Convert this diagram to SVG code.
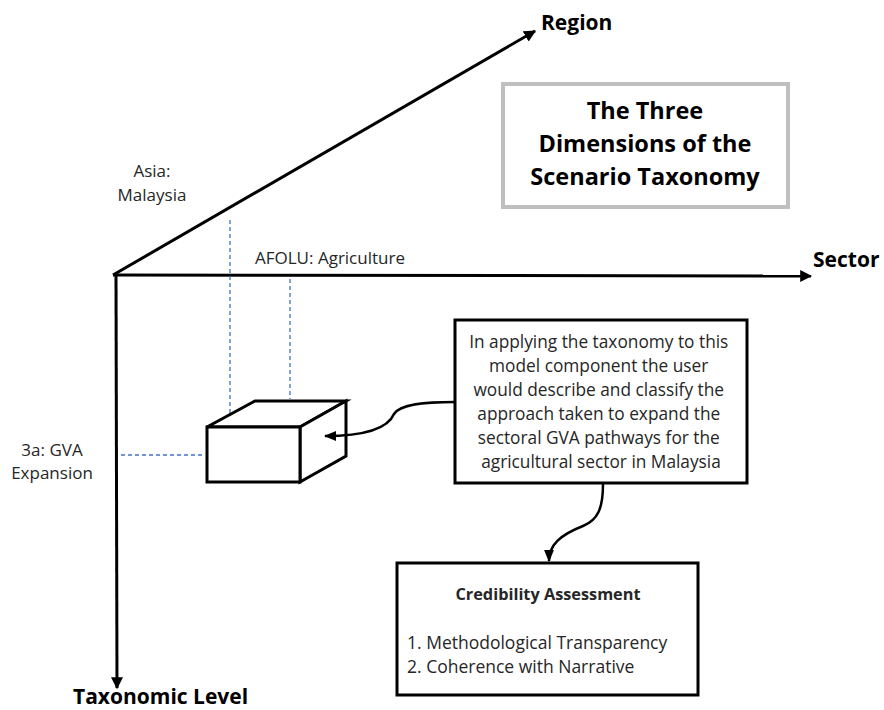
<svg xmlns="http://www.w3.org/2000/svg" width="884" height="710" viewBox="0 0 884 710">
<defs>
<style>
.t{font-family:"Open Sans","Noto Sans","Liberation Sans",sans-serif;fill:#262626}
.lbl{font-size:17px}
.ax{font-size:21px;font-weight:bold;fill:#000}
.ttl{font-size:23.5px;font-weight:bold;fill:#000}
.body{font-size:17.3px}
.axis{stroke:#000;stroke-width:3;fill:none}
.dash{stroke:#4472c4;stroke-width:1.3;stroke-dasharray:4,3;fill:none}
.box{stroke:#000;stroke-width:3;fill:#fff}
.con{stroke:#000;stroke-width:2.5;fill:none}
</style>
<marker id="ah" viewBox="0 0 10 10" refX="9" refY="5" markerWidth="4" markerHeight="4" orient="auto" markerUnits="strokeWidth">
<path d="M0,0 L10,5 L0,10 z" fill="#000"/>
</marker>
<marker id="ah2" viewBox="0 0 10 10" refX="9" refY="5" markerWidth="5" markerHeight="5" orient="auto" markerUnits="strokeWidth">
<path d="M0,1 L10,5 L0,9 z" fill="#000"/>
</marker>
</defs>
<rect width="884" height="710" fill="#fff"/>

<g id="axes">
<line class="axis" x1="113" y1="275" x2="535" y2="31" marker-end="url(#ah)"/>
<line class="axis" x1="113" y1="275" x2="811" y2="276" marker-end="url(#ah)"/>
<line class="axis" x1="116" y1="275" x2="117" y2="688" marker-end="url(#ah)"/>
</g>

<g id="axis-labels">
<text class="t ax" x="541" y="30">Region</text>
<text class="t ax" x="813" y="267">Sector</text>
<text class="t ax" x="73" y="704">Taxonomic Level</text>
</g>

<g id="tick-labels">
<text class="t lbl" x="152" y="177" text-anchor="middle">Asia:</text>
<text class="t lbl" x="152" y="201" text-anchor="middle">Malaysia</text>
<text class="t lbl" x="255" y="264">AFOLU: Agriculture</text>
<text class="t lbl" x="52" y="456" text-anchor="middle">3a: GVA</text>
<text class="t lbl" x="52" y="479" text-anchor="middle">Expansion</text>
</g>

<g id="guides">
<line class="dash" x1="230" y1="220" x2="230" y2="413"/>
<line class="dash" x1="290" y1="279" x2="290" y2="399"/>
<line class="dash" x1="121" y1="455" x2="203" y2="455"/>
</g>

<g id="cube">
<path class="box" d="M207,427 L255,401 L346,401 L300,427 Z"/>
<path class="box" d="M300,427 L346,401 L346,456 L300,482 Z"/>
<rect class="box" x="207" y="427" width="93" height="55"/>
</g>

<g id="title">
<rect x="503" y="84" width="285" height="123" fill="#fff" stroke="#bfbfbf" stroke-width="4"/>
<text class="t ttl" x="645" y="119" text-anchor="middle">The Three</text>
<text class="t ttl" x="645" y="152" text-anchor="middle">Dimensions of the</text>
<text class="t ttl" x="645" y="185" text-anchor="middle">Scenario Taxonomy</text>
</g>

<g id="description">
<rect class="box" x="455" y="320" width="292" height="163"/>
<text class="t body" text-anchor="middle" x="601">
<tspan x="601" y="348">In applying the taxonomy to this</tspan>
<tspan x="601" y="372">model component the user</tspan>
<tspan x="601" y="396">would describe and classify the</tspan>
<tspan x="601" y="420">approach taken to expand the</tspan>
<tspan x="601" y="444">sectoral GVA pathways for the</tspan>
<tspan x="601" y="468">agricultural sector in Malaysia</tspan>
</text>
</g>

<g id="credibility">
<rect class="box" x="397" y="563" width="301" height="132"/>
<text class="t" x="548" y="600" text-anchor="middle" font-size="16.3" font-weight="bold">Credibility Assessment</text>
<text class="t" x="407" y="649" font-size="17.5">1. Methodological Transparency</text>
<text class="t" x="407" y="673" font-size="17.5">2. Coherence with Narrative</text>
</g>

<g id="connectors">
<path class="con" d="M455,402 C425,402 400,404 394,414 C388,428 365,436 325,436" marker-end="url(#ah2)"/>
<path class="con" d="M603,484 C603,508 598,520 583,526 C560,535 549,545 549,561" marker-end="url(#ah2)"/>
</g>
</svg>
